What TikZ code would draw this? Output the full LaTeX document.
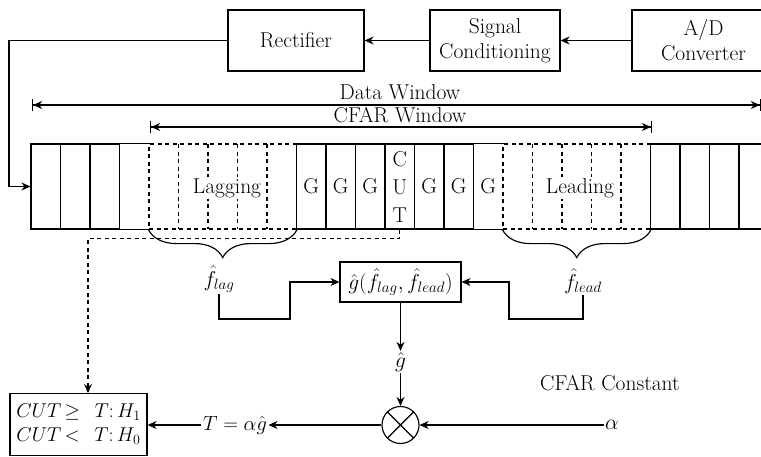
\RequirePackage{fix-cm}
\documentclass[tikz,border=0pt]{standalone}
\usepackage{fontspec}
\usetikzlibrary{arrows.meta,decorations.pathreplacing,calc}
\begin{document}
\begin{tikzpicture}[x=1pt,y=-1pt, line width=1.15pt,
  font=\fontsize{21.5}{25}\selectfont,
  >={Stealth[length=9pt,width=8pt]},
  box/.style={draw, inner sep=0pt, align=center},
  cell/.style={draw, minimum width=29.5pt, minimum height=85pt, inner sep=0pt},
  bare/.style={minimum width=29.5pt, minimum height=85pt, inner sep=0pt},
  dsh/.style={dash pattern=on 4pt off 3.5pt},
  region/.style={draw, dsh, minimum width=147.5pt, minimum height=85pt, inner sep=0pt},
  lbl/.style={inner sep=1pt},
  brc/.style={decorate, decoration={brace, mirror, amplitude=28pt}}]
\clip (0,0) rectangle (761,456);
% top chain
\node[box, minimum width=136pt, minimum height=61pt] (rect) at (296,40.5) {Rectifier};
\node[box, minimum width=130pt, minimum height=61pt] (sc) at (495,40.5) {Signal\\Conditioning};
\node[box, minimum width=143pt, minimum height=61pt] (ad) at (703.5,40.5) {A/D\\Converter};
\draw[->] (ad) -- (sc);
\draw[->] (sc) -- (rect);
% windows
\draw[{Bar[width=12pt]Stealth[length=9pt,width=8pt]}-{Stealth[length=9pt,width=8pt]Bar[width=12pt]}] (32,105) -- (761,105);
\node[lbl] (dw) at (400,92) {Data Window};
\draw[{Bar[width=12pt]Stealth[length=9pt,width=8pt]}-{Stealth[length=9pt,width=8pt]Bar[width=12pt]}] (150,127) -- (652,127);
\node[lbl] (cw) at (400,115) {CFAR Window};
% dashed regions
\node[region] (lagR) at (222.75,186.5) {};
\node[region] (leadR) at (576.75,186.5) {};
\foreach \x in {178.5,208,237.5,267,532.5,562,591.5,621}
  \draw[dsh] (\x,144) -- (\x,229);
\node[fill=white, inner sep=1pt] (lag) at (227,188) {Lagging};
\node[fill=white, inner sep=1pt] (lead) at (580,188) {Leading};
% solid cells
\foreach \i in {0,1,2,9,10,11,12,13,14,21,22,23,24,25}
  \node[cell] (c\i) at ({31+29.5*\i+14.75},186.5) {};
\foreach \i in {3,15}
  \node[bare] (c\i) at ({31+29.5*\i+14.75},186.5) {};
\draw (c3.north west) -- (c3.north east) (c3.south west) -- (c3.south east);
\draw (c15.north west) -- (c15.north east) (c15.south west) -- (c15.south east);
\foreach \i in {9,10,11,13,14,15}
  \node[lbl] (g\i) at (c\i) {G};
\node[align=center, inner sep=0pt, font=\fontsize{21.5}{28}\selectfont] (cut) at (c12) {C\\U\\T};
% input from rectifier
\draw[->] (rect.west) -- (9,40.5) -- (9,186.5) -- (c0.west);
% braces
\draw[brc] (lagR.south west) -- (lagR.south east);
\draw[brc] (leadR.south west) -- (leadR.south east);
% estimates
\node[lbl] (fl) at (219,279) {$\hat f_{lag}$};
\node[lbl] (fe) at (583,281) {$\hat f_{lead}$};
\node[box, minimum width=121pt, minimum height=40pt, font=\fontsize{21.5}{25}\selectfont] (gbox) at (400.5,282) {$\hat g\Bigl(\hat f_{lag},\hat f_{lead}\Bigr)$};
\draw[->] (fl.south) |- (290,319) |- (gbox.west);
\draw[->] (fe.south) |- (509,319) |- (gbox.east);
\node[lbl] (gh) at (400.5,362) {$\hat g$};
\draw[->] (gbox.south) -- (gh.north);
\node[draw, circle, minimum size=37pt, inner sep=0pt] (circ) at (400.5,425) {};
\draw (circ.north west) -- (circ.south east) (circ.north east) -- (circ.south west);
\draw[->] (gh.south) -- (circ.north);
\node[lbl] (cc) at (610,383) {CFAR Constant};
\node[lbl] (al) at (612,425) {$\alpha$};
\draw[->] (al.west) -- (circ.east);
\node[lbl, font=\fontsize{20.5}{24}\selectfont] (tn) at (235,425) {$T = \alpha\hat g$};
\draw[->] (circ.west) -- (tn.east);
\node[box, minimum width=137pt, minimum height=62pt, inner sep=2pt, font=\fontsize{20}{24}\selectfont] (dec) at (78.5,424.5) {$CUT\,{\ge}\;\;\,T{:}\,H_1$\\$CUT\,{<}\;\;\,T{:}\,H_0$};
\draw[->] (tn.west) -- (tn.west -| dec.east);
% CUT to decision
\coordinate (dtgt) at (88,393);
\draw[dsh,->] (c12.south) -- ++(0,9) -| (dtgt);
\end{tikzpicture}
\end{document}
